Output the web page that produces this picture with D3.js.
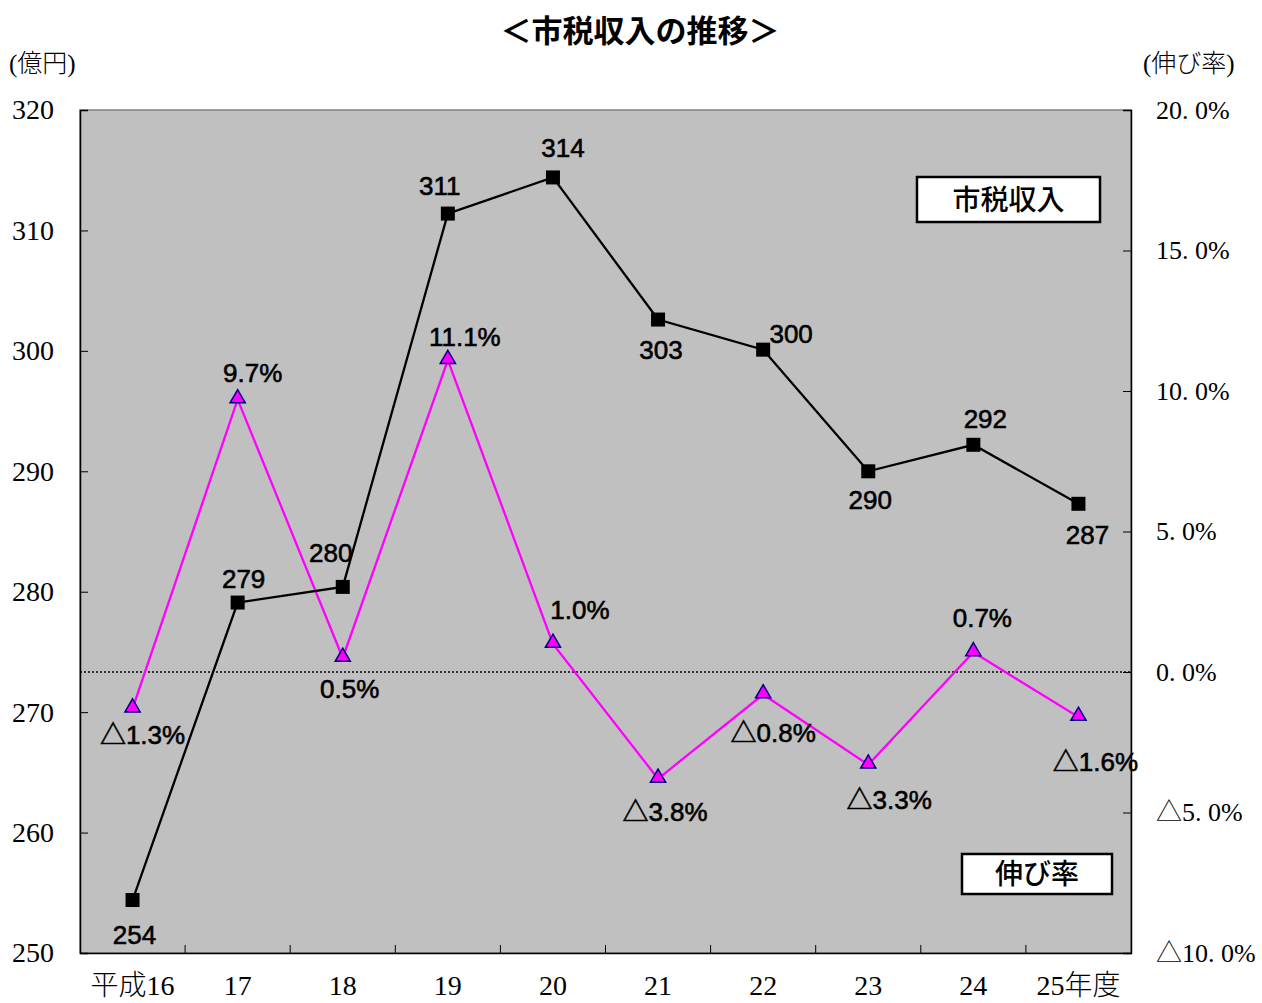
<!DOCTYPE html>
<html>
<head>
<meta charset="utf-8">
<script src="https://cdn.jsdelivr.net/npm/d3@7"></script>
<style>
  html, body { margin: 0; padding: 0; background: #fff; }
  svg { display: block; }
</style>
</head>
<body>
<svg id="chart" width="1262" height="1003"></svg>
<script>
// 年度
const categories = ["平成16", "17", "18", "19", "20", "21", "22", "23", "24", "25年度"];
// 市税収入（億円）
const taxRevenue = [254.4, 279.1, 280.4, 311.4, 314.4, 302.6, 300.1, 290.0, 292.2, 287.3];
// 伸び率（％）
const growthRate = [-1.3, 9.7, 0.5, 11.1, 1.0, -3.8, -0.8, -3.3, 0.7, -1.6];
// 目盛
const leftTicks = [250, 260, 270, 280, 290, 300, 310, 320];
const rightTicks = [-10, -5, 0, 5, 10, 15, 20];

// ラベルの配置（点からのずれ）
const taxLabelOffset = [[2, 44], [6, -15], [-12, -25], [-8, -19], [10, -20], [3, 39], [28, -7], [2, 38], [12, -17], [9, 40]];
const rateLabelOffset = [[10, 35], [15, -17], [7, 40], [17, -14], [27, -25], [7, 42], [10, 48], [21, 44], [9, -25], [17, 54]];

const svg = d3.select("#chart");
const m = { left: 80, right: 1131, top: 110, bottom: 953 };

const x = d3.scaleBand().domain(categories).range([m.left, m.right]).padding(0);
const cx = d => x(d) + x.bandwidth() / 2;
const yL = d3.scaleLinear().domain([250, 320]).range([m.bottom, m.top]);
const yR = d3.scaleLinear().domain([-10, 20]).range([m.bottom, m.top]);

const serif = "'Liberation Serif', 'Noto Sans CJK JP', serif";
const gothic = "'Noto Sans CJK JP', sans-serif";
const labelFont = "'Liberation Sans', 'Noto Sans CJK JP', sans-serif";

// プロットエリア
svg.append("rect")
  .attr("x", m.left).attr("y", m.top)
  .attr("width", m.right - m.left).attr("height", m.bottom - m.top)
  .attr("fill", "#c0c0c0").attr("stroke", "#808080").attr("stroke-width", 1.5);

// 左軸
const leftAxis = svg.append("g").attr("transform", `translate(${m.left},0)`)
  .call(d3.axisLeft(yL).tickValues(leftTicks).tickSize(-8).tickPadding(25).tickFormat(d3.format("d")));
// 右軸
const pct = d => (d < 0 ? "△" : "") + Math.abs(d).toFixed(0) + ". 0%";
const rightAxis = svg.append("g").attr("transform", `translate(${m.right},0)`)
  .call(d3.axisRight(yR).tickValues(rightTicks).tickSize(-8).tickPadding(25).tickFormat(pct));
// 下軸
const bottomAxis = svg.append("g").attr("transform", `translate(0,${m.bottom})`)
  .call(d3.axisBottom(x).tickSize(0).tickPadding(22));

[leftAxis, rightAxis, bottomAxis].forEach(g => {
  g.select(".domain").attr("stroke", "#000").attr("stroke-width", 1.5);
  g.selectAll(".tick line").attr("stroke", "#000").attr("stroke-width", 1);
  g.selectAll("text").attr("font-family", serif).attr("font-weight", 300).attr("fill", "#000");
});
leftAxis.selectAll("text").attr("font-size", 28).attr("text-anchor", "start").attr("x", -68);
rightAxis.selectAll("text").attr("font-size", 26).attr("x", 25);
bottomAxis.selectAll("text").attr("font-size", 28);

// 区切り目盛（下）
svg.append("g").selectAll("line")
  .data(categories.slice(1))
  .join("line")
  .attr("x1", d => x(d)).attr("x2", d => x(d))
  .attr("y1", m.bottom).attr("y2", m.bottom - 8)
  .attr("stroke", "#000").attr("stroke-width", 1);

// 0％線
svg.append("line")
  .attr("x1", m.left).attr("x2", m.right)
  .attr("y1", yR(0)).attr("y2", yR(0))
  .attr("stroke", "#000").attr("stroke-width", 1.5).attr("stroke-dasharray", "2,2");

// 伸び率の線
svg.append("path")
  .datum(growthRate)
  .attr("fill", "none").attr("stroke", "#ff00ff").attr("stroke-width", 2.3)
  .attr("d", d3.line().x((d, i) => cx(categories[i])).y(d => yR(d)));

// 市税収入の線
svg.append("path")
  .datum(taxRevenue)
  .attr("fill", "none").attr("stroke", "#000").attr("stroke-width", 2.3)
  .attr("d", d3.line().x((d, i) => cx(categories[i])).y(d => yL(d)));

// 三角マーカー
const tri = d3.symbol().type(d3.symbolTriangle).size(100);
svg.append("g").selectAll("path")
  .data(growthRate)
  .join("path")
  .attr("d", tri)
  .attr("transform", (d, i) => `translate(${cx(categories[i])},${yR(d) - 1})`)
  .attr("fill", "#ff00ff").attr("stroke", "#000080").attr("stroke-width", 1.5);

// 四角マーカー
svg.append("g").selectAll("rect")
  .data(taxRevenue)
  .join("rect")
  .attr("x", (d, i) => cx(categories[i]) - 7)
  .attr("y", d => yL(d) - 7)
  .attr("width", 14).attr("height", 14)
  .attr("fill", "#000");

// 値ラベル
function valueLabels(data, y, offset, fmt) {
  svg.append("g").selectAll("text")
    .data(data)
    .join("text")
    .attr("x", (d, i) => cx(categories[i]) + offset[i][0])
    .attr("y", (d, i) => y(d) + offset[i][1])
    .attr("text-anchor", "middle")
    .attr("font-family", labelFont).attr("font-size", 26)
    .attr("fill", "#000").attr("stroke", "#000").attr("stroke-width", 0.6)
    .text(fmt);
}
valueLabels(taxRevenue, yL, taxLabelOffset, d => Math.round(d));
valueLabels(growthRate, yR, rateLabelOffset, d => (d < 0 ? "△" : "") + Math.abs(d).toFixed(1) + "%");

// 凡例ボックス
function legendBox(x0, y0, w, h, label) {
  svg.append("rect").attr("x", x0).attr("y", y0).attr("width", w).attr("height", h)
    .attr("fill", "#fff").attr("stroke", "#000").attr("stroke-width", 2.5);
  svg.append("text").attr("x", x0 + w / 2).attr("y", y0 + h / 2 + 10)
    .attr("text-anchor", "middle")
    .attr("font-family", gothic).attr("font-size", 28).attr("font-weight", 500)
    .attr("fill", "#000").text(label);
}
legendBox(917, 177, 183, 45, "市税収入");
legendBox(962, 854, 150, 40, "伸び率");

// タイトル・単位
svg.append("text").attr("x", 640).attr("y", 42).attr("text-anchor", "middle")
  .attr("font-family", gothic).attr("font-size", 31).attr("font-weight", "bold")
  .text("＜市税収入の推移＞");
svg.append("text").attr("x", 9).attr("y", 72)
  .attr("font-family", serif).attr("font-size", 25).attr("font-weight", 300)
  .text("(億円)");
svg.append("text").attr("x", 1143).attr("y", 72)
  .attr("font-family", serif).attr("font-size", 25).attr("font-weight", 300)
  .text("(伸び率)");
</script>
</body>
</html>
